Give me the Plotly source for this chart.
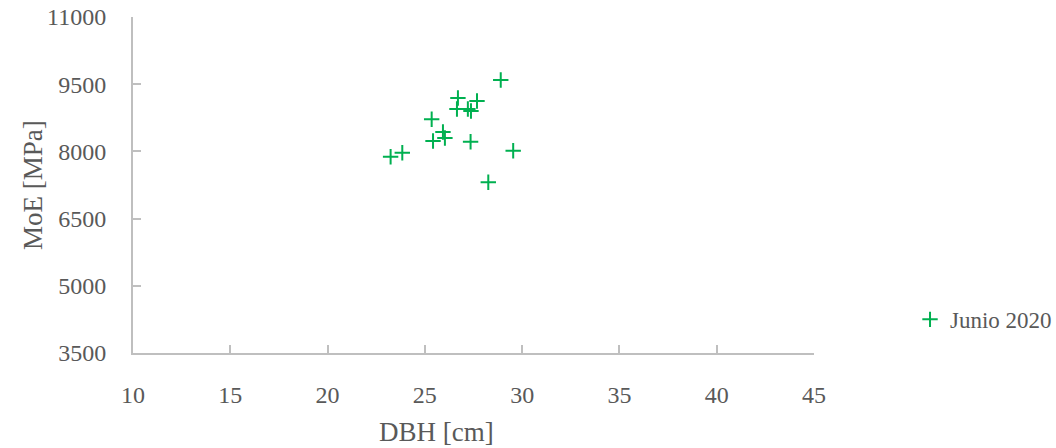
import plotly.graph_objects as go

dbh = [23.24, 23.84, 25.35, 25.42, 25.93, 26.03, 26.70, 26.65, 27.21, 27.37, 27.68, 27.35, 28.90, 29.54, 28.26]
moe = [7882, 7971, 8717, 8232, 8433, 8299, 9192, 8947, 8947, 8902, 9125, 8217, 9594, 8016, 7310]
series_name = "Junio 2020"
x_ticks = [10, 15, 20, 25, 30, 35, 40, 45]
y_ticks = [3500, 5000, 6500, 8000, 9500, 11000]
y_tick_labels = ["3500", "5000", "6500", "8000", "9500", "11000"]

FONT = "Liberation Serif"
GRAY = "#595959"
AX = "#BFBFBF"

W, H = 1056, 448

fig = go.Figure()
fig.add_trace(go.Scatter(
    x=dbh, y=moe, mode="markers", name=series_name,
    marker=dict(symbol="cross-thin", size=11, line=dict(color="#00B050", width=2), color="#00B050"),
))

L, R, T, B = 133, 242, 17, 95
fig.update_layout(
    width=W, height=H,
    margin=dict(l=L, r=R, t=T, b=B, autoexpand=False),
    paper_bgcolor="white", plot_bgcolor="white",
    font=dict(family=FONT, color=GRAY, size=24),
    showlegend=True,
    legend=dict(x=1.141, y=0.1, xanchor="left", yanchor="middle", itemwidth=30,
                font=dict(size=23, color=GRAY, family=FONT), bgcolor="rgba(0,0,0,0)"),
    xaxis=dict(range=[10, 45], tickvals=x_ticks, showgrid=False, zeroline=False,
               showline=True, linecolor=AX, linewidth=2, ticks="inside", ticklen=8,
               tickcolor=AX, tickwidth=2, tickfont=dict(size=24, color=GRAY, family=FONT),
               ticklabelstandoff=19, automargin=False),
    yaxis=dict(range=[3500, 11000], tickvals=y_ticks, ticktext=y_tick_labels, showgrid=False,
               zeroline=False, showline=True, linecolor=AX, linewidth=2, ticks="inside",
               ticklen=8, tickcolor=AX, tickwidth=2,
               tickfont=dict(size=24, color=GRAY, family=FONT),
               ticklabelstandoff=20, automargin=False),
)

pw = W - L - R
ph = H - T - B
fig.add_annotation(text="DBH [cm]", xref="paper", yref="paper", x=(436 - L) / pw,
                   y=-(432 - (T + ph)) / ph, xanchor="center", yanchor="middle",
                   showarrow=False, font=dict(size=27, color=GRAY, family=FONT))
fig.add_annotation(text="MoE [MPa]", xref="paper", yref="paper", x=-(L - 33) / pw,
                   y=0.5, xanchor="center", yanchor="middle", textangle=-90, showarrow=False,
                   font=dict(size=27, color=GRAY, family=FONT))

fig.write_html("out.html", config={"displayModeBar": False},
               post_script="document.body.style.margin='0';")
